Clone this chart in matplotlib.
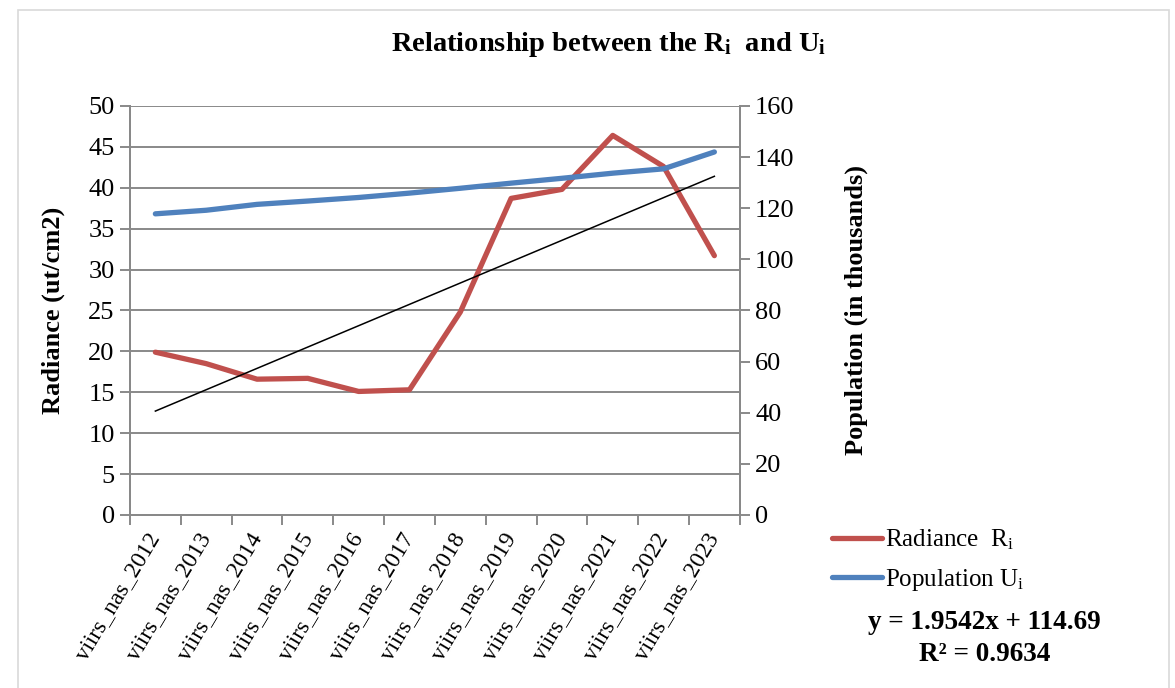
import matplotlib
matplotlib.use("Agg")
import matplotlib.pyplot as plt
import matplotlib.transforms as mtransforms
from matplotlib.patches import Rectangle

# data
years = ["viirs_nas_2012", "viirs_nas_2013", "viirs_nas_2014", "viirs_nas_2015",
         "viirs_nas_2016", "viirs_nas_2017", "viirs_nas_2018", "viirs_nas_2019",
         "viirs_nas_2020", "viirs_nas_2021", "viirs_nas_2022", "viirs_nas_2023"]
radiance = [19.9, 18.5, 16.6, 16.7, 15.1, 15.3, 24.8, 38.7, 39.8, 46.4, 42.6, 31.7]
population = [117.8, 119.2, 121.5, 122.8, 124.2, 125.9, 127.8, 129.8, 131.7, 133.7, 135.4, 142.0]
trend_ends = [12.7, 41.4]  # linear trend on radiance, first and last category

plt.rcParams["font.family"] = ["Liberation Serif", "DejaVu Serif"]
plt.rcParams["mathtext.fontset"] = "custom"
plt.rcParams["mathtext.rm"] = "Liberation Serif"
plt.rcParams["mathtext.it"] = "Liberation Serif:italic"
plt.rcParams["mathtext.bf"] = "Liberation Serif:bold"

grid_c = "#898989"

fig = plt.figure(figsize=(11.75, 6.88), dpi=100)
fig.patches.append(Rectangle((0.015, -0.01), 0.98, 0.995, transform=fig.transFigure,
                             fill=False, edgecolor="#d9d9d9", linewidth=1.2))

ax = fig.add_axes([0.1106, 0.2515, 0.519, 0.5945])
ax2 = ax.twinx()

x = list(range(len(years)))
ax.plot(x, radiance, color="#C0504D", linewidth=3.8, solid_capstyle="round",
        label=r"Radiance  $\mathregular{R_i}$", zorder=3)
ax2.plot(x, population, color="#4F81BD", linewidth=3.8, solid_capstyle="round",
         label=r"Population $\mathregular{U_i}$", zorder=3)
ax.plot([x[0], x[-1]], trend_ends, color="black", linewidth=1.1, zorder=4)

ax.set_xlim(-0.5, len(years) - 0.5)
ax.set_ylim(0, 50)
ax2.set_ylim(0, 160)
ax.set_yticks(range(0, 51, 5))
ax2.set_yticks(range(0, 161, 20))
ax.yaxis.grid(True, color=grid_c, linewidth=1.4)
ax.set_axisbelow(True)

ax.set_xticks([i - 0.5 for i in range(len(years) + 1)])
ax.set_xticklabels([])
ax.set_xticks(x, minor=True)
ax.set_xticklabels(years, minor=True, rotation=59, ha="right", va="center",
                   rotation_mode="anchor", fontsize=17)
shift = mtransforms.ScaledTranslation(-12 / 100, 0, fig.dpi_scale_trans)
for lab in ax.get_xticklabels(minor=True):
    lab.set_transform(lab.get_transform() + shift)
ax.tick_params(axis="x", which="minor", length=0, pad=14)
ax.tick_params(axis="x", which="major", length=7, width=1.4, color=grid_c)
ax.tick_params(axis="y", length=7, width=1.4, color=grid_c, labelsize=19, pad=4)
ax2.tick_params(axis="y", length=7, width=1.4, color=grid_c, labelsize=19, pad=4)

for a in (ax, ax2):
    a.spines["top"].set_visible(False)
    for s in ("left", "right", "bottom"):
        a.spines[s].set_color(grid_c)
        a.spines[s].set_linewidth(1.4)

ax.set_ylabel("Radiance (ut/cm2)", fontsize=19, fontweight="bold", labelpad=17)
ax2.set_ylabel("Population (in thousands)", fontsize=19, fontweight="bold", labelpad=36)

fig.text(0.518, 0.935, r"Relationship between the $\mathbf{R_i}$  and $\mathbf{U_i}$",
         ha="center", va="center", fontsize=20.5, fontweight="bold")

h1, l1 = ax.get_legend_handles_labels()
h2, l2 = ax2.get_legend_handles_labels()
fig.legend(h1 + h2, l1 + l2, loc="upper left", bbox_to_anchor=(0.689, 0.266),
           frameon=False, fontsize=18, handlelength=2.0, handletextpad=0.1,
           labelspacing=0.6)

fig.text(0.838, 0.095, "y = 1.9542x + 114.69", ha="center", va="center",
         fontsize=19.5, fontweight="bold")
fig.text(0.838, 0.048, "R² = 0.9634", ha="center", va="center",
         fontsize=19.5, fontweight="bold")

fig.savefig("out.png", dpi=100)
